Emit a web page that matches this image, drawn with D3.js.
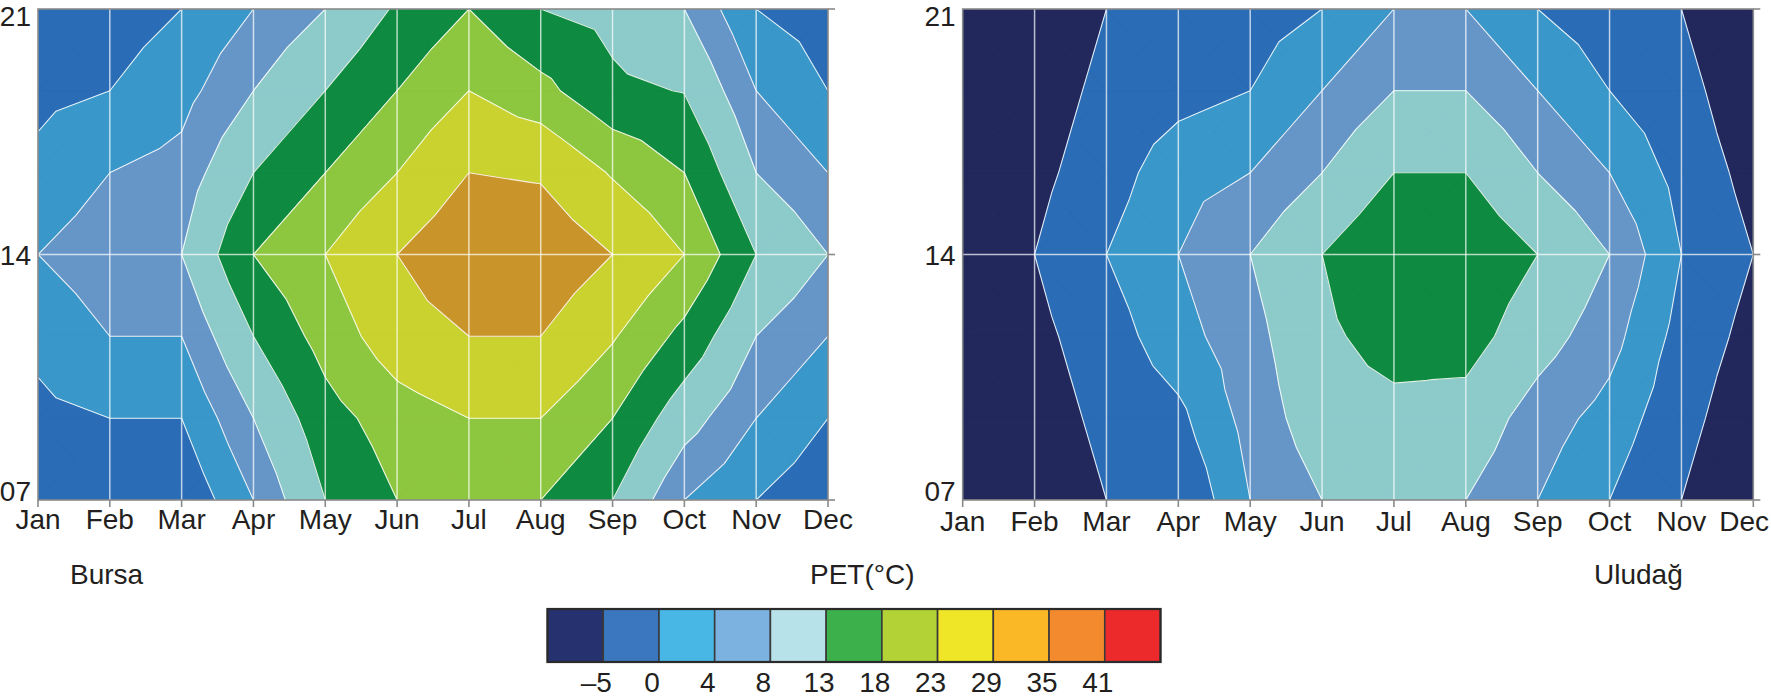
<!DOCTYPE html>
<html>
<head>
<meta charset="utf-8">
<script src="https://cdn.jsdelivr.net/npm/d3@7"></script>
<style>
  html, body { margin: 0; padding: 0; background: #ffffff; }
  svg { display: block; }
  text { font-family: "Liberation Sans", Arial, sans-serif; fill: #231f20; }
</style>
</head>
<body>
<svg id="chart" width="1771" height="699"></svg>
<script>
// ---------------- data ----------------
const months = ["Jan","Feb","Mar","Apr","May","Jun","Jul","Aug","Sep","Oct","Nov","Dec"];
// grid rows (hour of day), from 21h down to 07h
const hourRows = [21, 18.67, 16.33, 14, 11.67, 9.33, 7];
const hourTicks = [7, 14, 21];
const hourTickLabels = ["07", "14", "21"];

// PET (°C) values, one row per hourRows entry, 12 months each
const bursa = [
  [-2.5, -2,   0,   4,  8, 13.6, 18,   13,   11.5,  8,    0, -2],
  [-1,    0,   2.5, 8, 13, 18,   23,   19.5, 14,   12.8,  4,  0],
  [ 1,    4,   5.5,13, 18, 23,   29,   28.3, 22.5, 18,    8,  4],
  [ 4,    6.5, 8,  18, 23, 29,   34,   33.5, 29,   23,   13,  8],
  [ 1,    4,   4,  13, 20, 26,   29,   29,   23.5, 16.5,  8,  4],
  [-1,    0,   0,   8, 16, 20.5, 23,   23,   18,   10,    4,  0],
  [-2.5, -2,  -3.5, 4, 13, 18,   21,   18,   13,    4,    0, -3]
];
const uludag = [
  [-11, -9.5, -5,   -3.5, -2,   0,    4,    4,   0,  -2.5, -5,   -11],
  [-10, -8,   -3.5, -1.5,  0,   4,    8,    8,   4,   0,   -3,    -9],
  [ -9, -6.5, -2,    2.5,  4,   8,   13,   13,   8,   4,   -1.5,  -6.75],
  [ -8, -5,    0,    4,    8,  13,   17.5, 17,  13,   8,    0,    -5],
  [ -9, -6.5, -2,    2.5,  6.5,12,   15,   15,  10,   5.5, -1.5,  -6.75],
  [-10, -8,   -3.5, -1,    5.5,10.5, 11.5, 11,   6,   2.5, -3,    -9],
  [-11, -9.5, -5,   -4,    4,   8,   10.5,  8,   4,   0,   -5,   -11]
];

const petThresholds = [-5, 0, 4, 8, 13, 18, 23, 29, 35, 41];
const petLabels = ["\u20135", "0", "4", "8", "13", "18", "23", "29", "35", "41"];
const mapColors = ["#22285c", "#2a6cb5", "#3a97c9", "#6696c8", "#8dcaca", "#0f8a41",
                   "#8dc63f", "#c9d22f", "#c9952a", "#c8742a", "#c83030"];
const legendColors = ["#25326f", "#3b77bf", "#48b7e6", "#7cb2e0", "#b8e2ea", "#3cb04a",
                      "#b2d235", "#eee626", "#fbb826", "#f38a2d", "#ec2a2b"];
const panelNames = ["Bursa", "Uluda\u011f"];
const legendTitle = "PET(\u00b0C)";

// ---------------- drawing ----------------
const W = 1771;
const svg = d3.select("#chart");
svg.append("rect").attr("width", W).attr("height", 699).attr("fill", "#fff");

function clipPoly(poly, t, keepAbove) {
  const out = [];
  if (!poly.length) return out;
  const inside = p => keepAbove ? p.v >= t : p.v < t;
  for (let k = 0; k < poly.length; k++) {
    const a = poly[(k + poly.length - 1) % poly.length], b = poly[k];
    const ia = inside(a), ib = inside(b);
    if (ia !== ib) {
      const s = (t - a.v) / (b.v - a.v);
      out.push({x: a.x + s * (b.x - a.x), y: a.y + s * (b.y - a.y), v: t});
    }
    if (ib) out.push(b);
  }
  return out;
}

function drawPanel(data, x0, x1, yTop, yBot, labelDrop, id) {
  const g = svg.append("g");
  const xs = d3.scalePoint().domain(months).range([x0, x1]);
  const ys = d3.scaleLinear().domain([7, 21]).range([yBot, yTop]);
  const xi = d3.scaleLinear().domain([0, months.length - 1])
               .range([xs(months[0]), xs(months[months.length - 1])]);

  g.append("clipPath").attr("id", "clip" + id).append("rect")
    .attr("x", xs(months[0])).attr("y", ys(21))
    .attr("width", xs(months[11]) - xs(months[0])).attr("height", ys(7) - ys(21));

  const P = (i, j) => ({x: xi(i), y: ys(hourRows[j]), v: data[j][i]});
  const bandPaths = mapColors.map(() => []);
  const linePath = [];
  const nb = petThresholds.length + 1;

  for (let j = 0; j < hourRows.length - 1; j++) {
    for (let i = 0; i < months.length - 1; i++) {
      const a = P(i, j), b = P(i + 1, j), c = P(i + 1, j + 1), d = P(i, j + 1);
      const e = {x: (a.x + b.x) / 2, y: (a.y + d.y) / 2, v: (a.v + b.v + c.v + d.v) / 4};
      const tris = [[a, b, e], [b, c, e], [c, d, e], [d, a, e]];
      tris.forEach(tri => {
        for (let k = 0; k < nb; k++) {
          let poly = tri.slice();
          if (k > 0) poly = clipPoly(poly, petThresholds[k - 1], true);
          if (k < nb - 1) poly = clipPoly(poly, petThresholds[k], false);
          if (poly.length >= 3) {
            bandPaths[k].push("M" + poly.map(p => p.x.toFixed(2) + "," + p.y.toFixed(2)).join("L") + "Z");
          }
        }
        petThresholds.forEach(t => {
          const pts = [];
          for (let k = 0; k < 3; k++) {
            const p = tri[k], q = tri[(k + 1) % 3];
            if ((p.v >= t) !== (q.v >= t)) {
              const s = (t - p.v) / (q.v - p.v);
              pts.push([p.x + s * (q.x - p.x), p.y + s * (q.y - p.y)]);
            }
          }
          if (pts.length === 2) {
            const dx = pts[0][0] - pts[1][0], dy = pts[0][1] - pts[1][1];
            if (dx * dx + dy * dy > 0.01)
              linePath.push("M" + pts[0][0].toFixed(2) + "," + pts[0][1].toFixed(2) +
                            "L" + pts[1][0].toFixed(2) + "," + pts[1][1].toFixed(2));
          }
        });
      });
    }
  }

  const inner = g.append("g").attr("clip-path", "url(#clip" + id + ")");
  bandPaths.forEach((p, k) => {
    if (!p.length) return;
    inner.append("path").attr("d", p.join(""))
      .attr("fill", mapColors[k]).attr("stroke", mapColors[k])
      .attr("stroke-width", 0.7).attr("stroke-linejoin", "round");
  });
  inner.append("path").attr("d", linePath.join(""))
    .attr("fill", "none").attr("stroke", "#ffffff").attr("stroke-opacity", 0.85)
    .attr("stroke-width", 1.1);

  // grid lines
  inner.selectAll("line.vg").data(months.slice(1, -1)).enter().append("line")
    .attr("x1", d => xs(d)).attr("x2", d => xs(d))
    .attr("y1", ys(21)).attr("y2", ys(7))
    .attr("stroke", "#ffffff").attr("stroke-opacity", 0.7).attr("stroke-width", 1.5);
  inner.append("line")
    .attr("x1", xs(months[0])).attr("x2", xs(months[11]))
    .attr("y1", ys(14)).attr("y2", ys(14))
    .attr("stroke", "#ffffff").attr("stroke-opacity", 0.7).attr("stroke-width", 1.5);

  // frame
  const L = xs(months[0]), R = xs(months[11]), T = ys(21), B = ys(7);
  g.append("rect").attr("x", L).attr("y", T).attr("width", R - L).attr("height", B - T)
    .attr("fill", "none").attr("stroke", "#8a8a8a").attr("stroke-width", 1.6);
  g.selectAll("line.bt").data(months).enter().append("line")
    .attr("x1", d => xs(d)).attr("x2", d => xs(d)).attr("y1", B).attr("y2", B + 7)
    .attr("stroke", "#8a8a8a").attr("stroke-width", 1.6);
  g.selectAll("line.rt").data(hourTicks).enter().append("line")
    .attr("x1", R).attr("x2", R + 7).attr("y1", d => ys(d)).attr("y2", d => ys(d))
    .attr("stroke", "#8a8a8a").attr("stroke-width", 1.6);

  // axis labels
  g.selectAll("text.xl").data(months).enter().append("text")
    .attr("x", d => xs(d)).attr("y", B + labelDrop).attr("text-anchor", "middle")
    .attr("font-size", 28).text(d => d)
    .each(function(d) {
      const half = this.getComputedTextLength() / 2;
      const cx = Math.min(xs(d), W - 2 - half);
      d3.select(this).attr("x", cx);
    });
  // y labels (baseline placed so digits sit as in the reference)
  g.selectAll("text.yl").data(hourTicks).enter().append("text")
    .attr("x", L - 7)
    .attr("y", d => d === 21 ? ys(d) + 17 : d === 14 ? ys(d) + 10 : ys(d) + 1)
    .attr("text-anchor", "end")
    .attr("font-size", 28).text((d, i) => hourTickLabels[i]);
  return g;
}

drawPanel(bursa, 38, 828, 9, 500, 29, 0);
drawPanel(uludag, 962.7, 1753.3, 9, 500, 31, 1);

// panel titles
svg.append("text").attr("x", 70).attr("y", 584).attr("font-size", 28).text(panelNames[0]);
svg.append("text").attr("x", 1594).attr("y", 584).attr("font-size", 28).text(panelNames[1]);
svg.append("text").attr("x", 810).attr("y", 584).attr("font-size", 28).text(legendTitle);

// legend
const bandIdx = d3.range(legendColors.length);
const lx = d3.scaleBand().domain(bandIdx).range([547.5, 1160.5]).padding(0);
const lg = svg.append("g");
lg.selectAll("rect.sw").data(bandIdx).enter().append("rect")
  .attr("x", d => lx(d)).attr("y", 609).attr("width", lx.bandwidth()).attr("height", 53)
  .attr("fill", d => legendColors[d]).attr("stroke", "#3a3a3a").attr("stroke-width", 1.6);
lg.append("rect").attr("x", 547.5).attr("y", 609).attr("width", 1160.5 - 547.5).attr("height", 53)
  .attr("fill", "none").attr("stroke", "#2a2a2a").attr("stroke-width", 2.2);
lg.selectAll("text.ll").data(petLabels).enter().append("text")
  .attr("x", (d, i) => lx(i + 1) - 7).attr("y", 692).attr("text-anchor", "middle")
  .attr("font-size", 28).text(d => d);
</script>
</body>
</html>
